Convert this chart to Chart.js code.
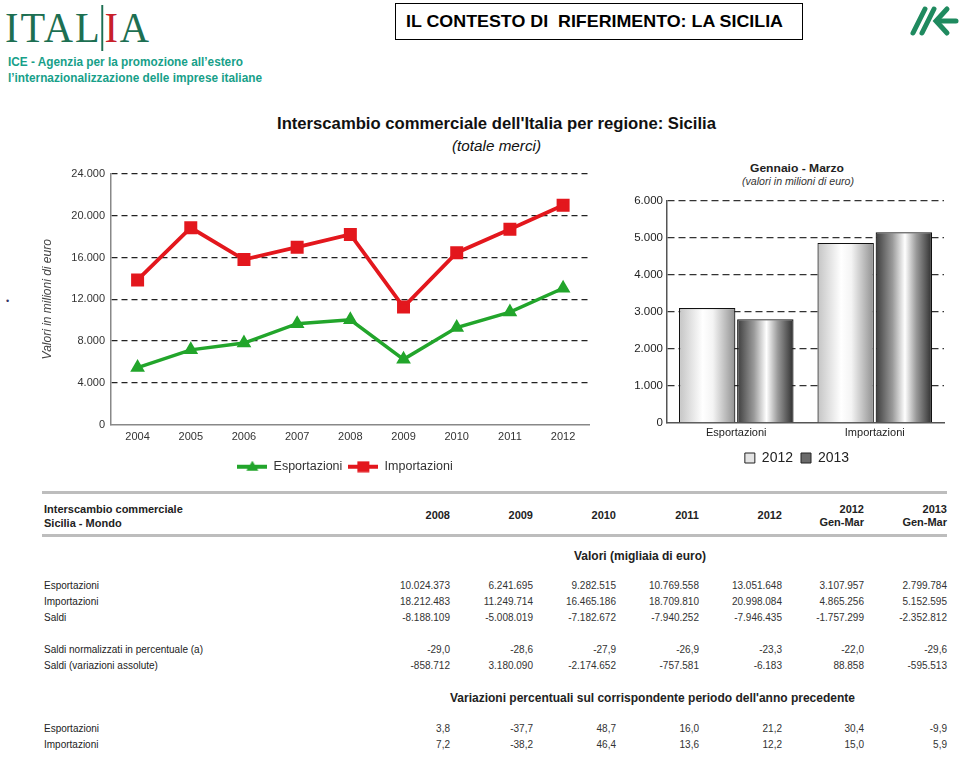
<!DOCTYPE html>
<html><head><meta charset="utf-8">
<script src="https://cdn.jsdelivr.net/npm/chart.js@4.4.1/dist/chart.umd.min.js"></script>
<style>
html,body{margin:0;padding:0;background:#fff;}
body{width:960px;height:761px;position:relative;overflow:hidden;font-family:"Liberation Sans",Arial,sans-serif;}
.abs{position:absolute;white-space:nowrap;}
.fit{transform-origin:0 50%;}
#hdr{left:395px;top:3px;width:406px;height:35px;border:1px solid #000;}
.cell{position:absolute;white-space:nowrap;font-size:10px;color:#333;line-height:12px;}
.lbl{position:absolute;white-space:nowrap;font-size:10px;color:#222;line-height:12px;left:44px;}
</style></head>
<body>
<div class="abs fit" id="logo" style="left:5px;top:7px;font-family:'Liberation Serif','DejaVu Serif',serif;font-size:42px;line-height:42px;color:#1d6f52;letter-spacing:2px;">ITAL<span style="color:#c8202a;border-left:2px solid #1d6f52;padding-left:1px;">I</span>A</div>
<div class="abs fit" id="ice1" style="left:8px;top:54px;font-size:12px;font-weight:bold;color:#17a089;line-height:16px;">ICE - Agenzia per la promozione all’estero</div>
<div class="abs fit" id="ice2" style="left:8px;top:70px;font-size:12px;font-weight:bold;color:#17a089;line-height:16px;">l’internazionalizzazione delle imprese italiane</div>
<div class="abs" id="hdr"></div>
<div class="abs fit" id="hdrt" style="left:406px;top:11px;font-size:16.5px;font-weight:bold;color:#000;line-height:20px;">IL CONTESTO DI&nbsp; RIFERIMENTO: LA SICILIA</div>
<svg class="abs" style="left:905px;top:2px;" width="55" height="38" viewBox="0 0 55 38">
<g stroke="#1f8a5f" stroke-width="5" stroke-linecap="round" fill="none">
<line x1="8" y1="31" x2="20" y2="7"/>
<line x1="17" y1="31" x2="29" y2="7"/>
<polyline points="42,7 31,19 42,31"/>
<line x1="33" y1="19" x2="51" y2="19"/>
</g></svg>
<div class="abs" style="left:6px;top:296px;font-size:9px;color:#336;">•</div>

<div class="abs fit" id="ct1" style="left:277px;top:114px;font-size:16px;font-weight:bold;color:#111;line-height:20px;">Interscambio commerciale dell'Italia per regione: Sicilia</div>
<div class="abs fit" id="ct2" style="left:452px;top:137px;font-size:14px;font-style:italic;color:#111;line-height:18px;">(totale merci)</div>
<div class="abs fit" id="bt1" style="left:750px;top:161px;font-size:11.5px;font-weight:bold;color:#222;line-height:14px;">Gennaio - Marzo</div>
<div class="abs fit" id="bt2" style="left:742px;top:176px;font-size:10px;font-style:italic;color:#333;line-height:12px;">(valori in milioni di euro)</div>

<div class="abs" style="left:40px;top:160px;width:560px;height:317px;"><canvas id="lc"></canvas></div>
<div class="abs" style="left:620px;top:190px;width:340px;height:285px;"><canvas id="bc"></canvas></div>

<div class="abs" style="left:42px;top:491px;width:905px;height:3px;background:#bdbdbd;"></div>
<div class="abs" style="left:42px;top:534px;width:905px;height:3px;background:#bdbdbd;"></div>
<div id="tbl"></div>

<script>
// ---------- data ----------
const years = ['2004','2005','2006','2007','2008','2009','2010','2011','2012'];
const esportazioni = [5450, 7150, 7800, 9657, 10024, 6242, 9283, 10770, 13052];
const importazioni = [13850, 18850, 15800, 16989, 18212, 11250, 16465, 18710, 20998];

const gmCategories = ['Esportazioni','Importazioni'];
const gm2012 = [3108, 4865];
const gm2013 = [2800, 5153];

const tableTitle = ['Interscambio commerciale','Sicilia - Mondo'];
const tableCols = [['2008'],['2009'],['2010'],['2011'],['2012'],['2012','Gen-Mar'],['2013','Gen-Mar']];
const valoriTitle = 'Valori (migliaia di euro)';
const rowLabels1 = ['Esportazioni','Importazioni','Saldi'];
const rowEsp = ['10.024.373','6.241.695','9.282.515','10.769.558','13.051.648','3.107.957','2.799.784'];
const rowImp = ['18.212.483','11.249.714','16.465.186','18.709.810','20.998.084','4.865.256','5.152.595'];
const rowSaldi = ['-8.188.109','-5.008.019','-7.182.672','-7.940.252','-7.946.435','-1.757.299','-2.352.812'];
const rowLabels2 = ['Saldi normalizzati in percentuale (a)','Saldi (variazioni assolute)'];
const rowNorm = ['-29,0','-28,6','-27,9','-26,9','-23,3','-22,0','-29,6'];
const rowVarAss = ['-858.712','3.180.090','-2.174.652','-757.581','-6.183','88.858','-595.513'];
const variazTitle = "Variazioni percentuali sul corrispondente periodo dell'anno precedente";
const rowLabels3 = ['Esportazioni','Importazioni'];
const rowVarEsp = ['3,8','-37,7','48,7','16,0','21,2','30,4','-9,9'];
const rowVarImp = ['7,2','-38,2','46,4','13,6','12,2','15,0','5,9'];

// ---------- helpers ----------
function fit(id, w){ const el=document.getElementById(id); const r=el.getBoundingClientRect().width; if(r>0) el.style.transform='scaleX('+(w/r)+')'; }
fit('logo',146); fit('ice1',235); fit('ice2',254); fit('hdrt',377); fit('ct1',439); fit('ct2',89); fit('bt1',94); fit('bt2',112);
const itFmt = v => String(v).replace(/\B(?=(\d{3})+(?!\d))/g,'.');

// ---------- table ----------
(function(){
  const t=document.getElementById('tbl');
  const colRight=[450,533,616,699,782,864,947];
  function add(cls, txt, left, right, top, extra){
    const d=document.createElement('div'); d.className=cls; d.textContent=txt;
    if(right!=null){ d.style.right=(960-right)+'px'; d.style.textAlign='right'; } else d.style.left=left+'px';
    d.style.top=(top-6)+'px'; if(extra) Object.assign(d.style,extra); t.appendChild(d); return d;
  }
  const bold={fontWeight:'bold',fontSize:'11px',color:'#222'};
  add('lbl',tableTitle[0],44,null,509,bold); add('lbl',tableTitle[1],44,null,523,bold);
  tableCols.forEach((c,i)=>{
    if(c.length===1) add('cell',c[0],null,colRight[i],515,bold);
    else { add('cell',c[0],null,colRight[i],509,bold); add('cell',c[1],null,colRight[i],522,bold); }
  });
  add('cell',valoriTitle,574,null,556,{fontWeight:'bold',fontSize:'12px',color:'#222'});
  const rows1=[rowEsp,rowImp,rowSaldi], y1=[586,602,618];
  rowLabels1.forEach((l,i)=>{ add('lbl',l,44,null,y1[i]); rows1[i].forEach((v,j)=>add('cell',v,null,colRight[j],y1[i])); });
  const rows2=[rowNorm,rowVarAss], y2=[650,666];
  rowLabels2.forEach((l,i)=>{ add('lbl',l,44,null,y2[i]); rows2[i].forEach((v,j)=>add('cell',v,null,colRight[j],y2[i])); });
  add('cell',variazTitle,450,null,698,{fontWeight:'bold',fontSize:'12px',color:'#222'});
  const rows3=[rowVarEsp,rowVarImp], y3=[729,745];
  rowLabels3.forEach((l,i)=>{ add('lbl',l,44,null,y3[i]); rows3[i].forEach((v,j)=>add('cell',v,null,colRight[j],y3[i])); });
})();

// ---------- line chart ----------
const RED='#e3171d', GREEN='#22a52b';
function legendIcon(color, style){
  const c=document.createElement('canvas'); c.width=30; c.height=12; const x=c.getContext('2d');
  x.strokeStyle=color; x.lineWidth=4; x.beginPath(); x.moveTo(0,6); x.lineTo(30,6); x.stroke();
  x.fillStyle=color; x.beginPath();
  if(style==='tri'){ x.moveTo(15,0); x.lineTo(21,10); x.lineTo(9,10); x.closePath(); }
  else x.rect(9,0.5,12,11);
  x.fill(); return c;
}
const shiftLegend = (dx,dy) => ({id:'shiftLegend', afterLayout(c){ if(c.legend){ c.legend.left+=dx; c.legend.right+=dx; c.legend.top+=dy; c.legend.bottom+=dy; } }});

new Chart(document.getElementById('lc'), {
  type:'line',
  data:{ labels:years, datasets:[
    {label:'Esportazioni', data:esportazioni, borderColor:GREEN, backgroundColor:GREEN, borderWidth:3.5,
     pointStyle:'triangle', pointRadius:5, pointBackgroundColor:GREEN, pointBorderColor:GREEN, tension:0},
    {label:'Importazioni', data:importazioni, borderColor:RED, backgroundColor:RED, borderWidth:3.8,
     pointStyle:'rect', pointRadius:6.5, pointBackgroundColor:RED, pointBorderColor:RED, tension:0}
  ]},
  options:{
    responsive:true, maintainAspectRatio:false, animation:false,
    layout:{padding:{left:0,right:10,top:14,bottom:0}},
    plugins:{
      tooltip:{enabled:false},
      legend:{position:'bottom', labels:{usePointStyle:true, pointStyleWidth:30, padding:6, color:'#333',
        font:{family:'Liberation Sans, Arial', size:12.5},
        generateLabels(ch){ return ch.data.datasets.map((d,i)=>({text:d.label, pointStyle:legendIcon(d.borderColor, i===0?'tri':'rect'), fillStyle:d.borderColor, strokeStyle:d.borderColor, lineWidth:0, datasetIndex:i, fontColor:'#333'})); }}}
    },
    scales:{
      x:{ offset:true, grid:{display:false, drawTicks:false}, border:{display:true,color:'#888',width:1.5},
          ticks:{color:'#333', font:{family:'Liberation Sans, Arial', size:11}, padding:6},
          afterFit(s){ s.height=24; } },
      y:{ min:0, max:24000, ticks:{stepSize:4000, color:'#333', padding:6, font:{family:'Liberation Sans, Arial', size:11}, callback:v=>itFmt(v)},
          grid:{drawTicks:false, color:c=>c.tick && c.tick.value===0 ? 'rgba(0,0,0,0)' : '#222', lineWidth:1.2},
          border:{display:true, color:'#888', width:1.5, dash:[6,4]},
          title:{display:true, text:'Valori in milioni di euro', color:'#444', padding:{top:0,bottom:6}, font:{family:'Liberation Sans, Arial', size:12, style:'italic'}},
          afterFit(s){ s.width=71; } }
    }
  },
  plugins:[shiftLegend(30,6)]
});

// ---------- bar chart ----------
const CP=0.84, BP=0.97;
function barGradient(ctx, stops){
  const ch=ctx.chart, xs=ch.scales.x;
  if(ctx.type!=='data' || !xs || !xs.width) return stops[Math.floor(stops.length/2)][1];
  const w=xs.width/gmCategories.length, group=w*CP, slot=group/2;
  const left=xs.getPixelForValue(ctx.dataIndex)-group/2+ctx.datasetIndex*slot + slot*(1-BP)/2;
  const g=ch.ctx.createLinearGradient(left,0,left+slot*BP,0);
  stops.forEach(s=>g.addColorStop(s[0],s[1])); return g;
}
const stops12=[[0,'#c4c4c4'],[0.42,'#ffffff'],[0.6,'#f4f4f4'],[1,'#909090']];
const stops13=[[0,'#3c3c3c'],[0.3,'#9a9a9a'],[0.52,'#ffffff'],[0.72,'#9a9a9a'],[1,'#2e2e2e']];
new Chart(document.getElementById('bc'), {
  type:'bar',
  data:{ labels:gmCategories, datasets:[
    {label:'2012', data:gm2012, backgroundColor:c=>barGradient(c,stops12), borderColor:'#111', borderWidth:1.2, borderSkipped:'bottom', categoryPercentage:CP, barPercentage:BP},
    {label:'2013', data:gm2013, backgroundColor:c=>barGradient(c,stops13), borderColor:'#111', borderWidth:1.2, borderSkipped:'bottom', categoryPercentage:CP, barPercentage:BP}
  ]},
  options:{
    responsive:true, maintainAspectRatio:false, animation:false,
    layout:{padding:{left:0,right:16,top:9,bottom:0}},
    plugins:{ tooltip:{enabled:false},
      legend:{position:'bottom', labels:{boxWidth:10, boxHeight:10, padding:8, color:'#222', font:{family:'Liberation Sans, Arial', size:14},
        generateLabels(ch){ return [
          {text:'2012', fillStyle:'#e4e4e4', strokeStyle:'#222', lineWidth:1, datasetIndex:0, fontColor:'#222'},
          {text:'2013', fillStyle:'#6a6a6a', strokeStyle:'#222', lineWidth:1, datasetIndex:1, fontColor:'#222'}]; }}}
    },
    scales:{
      x:{ grid:{display:false, drawTicks:false}, border:{display:true,color:'#555',width:1.5},
          ticks:{color:'#222', font:{family:'Liberation Sans, Arial', size:11}, padding:3},
          afterFit(s){ s.height=20; } },
      y:{ min:0, max:6000, ticks:{stepSize:1000, color:'#222', padding:4, font:{family:'Liberation Sans, Arial', size:11.5}, callback:v=>itFmt(v)},
          grid:{drawTicks:false, color:c=>c.tick && c.tick.value===0 ? 'rgba(0,0,0,0)' : '#333', lineWidth:1.3},
          border:{display:true, color:'#555', width:1.5, dash:[7,4]},
          afterFit(s){ s.width=47; } }
    }
  },
  plugins:[shiftLegend(15,0)]
});
</script>
</body></html>
